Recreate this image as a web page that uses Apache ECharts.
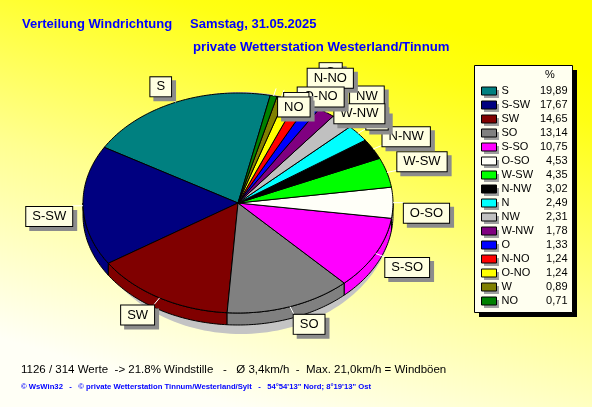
<!DOCTYPE html>
<html><head><meta charset="utf-8">
<script src="https://cdn.jsdelivr.net/npm/echarts@6/dist/echarts.min.js"></script>
<style>html,body{margin:0;padding:0;} #c{width:592px;height:407px;}</style>
</head><body><div id="c"></div>
<script>
// ---- data ----
const categories = ['S','S-SW','SW','SO','S-SO','O-SO','W-SW','N-NW','N','NW','W-NW','O','N-NO','O-NO','W','NO'];
const percentValues = [19.89,17.67,14.65,13.14,10.75,4.53,4.35,3.02,2.49,2.31,1.78,1.33,1.24,1.24,0.89,0.71];
const sliceColors = ['#008080','#000080','#800000','#808080','#ff00ff','#fffff8','#00ff00','#000000','#00ffff','#c0c0c0','#800080','#0000ff','#ff0000','#ffff00','#808000','#008000'];
const titleMain = 'Verteilung Windrichtung';
const titleDate = 'Samstag, 31.05.2025';
const titleStation = 'private Wetterstation Westerland/Tinnum';
const statsLine = '1126 / 314 Werte  -> 21.8% Windstille   -   Ø 3,4km/h  -  Max. 21,0km/h = Windböen';
const creditLine = '© WsWin32   -   © private Wetterstation Tinnum/Westerland/Sylt   -   54°54\'13" Nord; 8°19\'13" Ost';
const legendHeader = '%';

// ---- layout / style constants ----
const FONT = '"Liberation Sans", Arial, sans-serif';
const START_ANGLE = 78;   // degrees, counter-clockwise from east
const DEPTH = 12;         // px, 3D side height
const LABEL_R = 1.07;     // label anchor radius (relative)
const labelNudge = { 'NW':[1,-11], 'W-NW':[2,16], 'O':[1,-19], 'N-NO':[1,-9], 'O-NO':[3,13], 'W':[0,21], 'NO':[2,27] };
const LEG = {x:474, y:65, w:98, h:247, rowH:14, iconX:481, iconY:87};

const total = percentValues.reduce((a,b)=>a+b,0);
const startA = [], endA = [];
let acc = START_ANGLE;
percentValues.forEach(v => { startA.push(acc); acc += v/total*360; endA.push(acc); });
const rad = d => d*Math.PI/180;
const fmt = v => v.toFixed(2).replace('.', ',');

function arcPoints(api, a, b, r) {
  const pts = [];
  const n = Math.max(2, Math.ceil((b - a) / 1));
  for (let k = 0; k <= n; k++) {
    const t = rad(a + (b - a) * k / n);
    pts.push(api.coord([Math.cos(t) * r, Math.sin(t) * r]));
  }
  return pts;
}

function renderSlice(params, api) {
  const i = api.value(2);
  const a0 = startA[i], a1 = endA[i];
  const color = sliceColors[i];
  const children = [];
  const s = Math.max(a0, 180), e = Math.min(a1, 360);
  if (e > s) {
    const top = arcPoints(api, s, e, 1);
    const bot = top.map(p => [p[0], p[1] + DEPTH]).reverse();
    children.push({type:'polygon', shape:{points: top.concat(bot)}, style:{fill: color, stroke:'#000', lineWidth:1}});
  }
  const pts = [api.coord([0,0])].concat(arcPoints(api, a0, a1, 1));
  children.push({type:'polygon', shape:{points: pts}, style:{fill: color, stroke:'#000', lineWidth:1}});
  return {type:'group', children};
}

function renderShadow(params, api) {
  const pts = [];
  for (let k = 0; k < 360; k += 2) {
    const t = rad(k);
    const p = api.coord([Math.cos(t) * 0.98, Math.sin(t) * 1.1]);
    pts.push([p[0] + 3, p[1] + 10]);
  }
  return {type:'polygon', shape:{points: pts}, style:{fill:'#c4c4c4'}};
}

function renderLabel(params, api) {
  const i = api.value(2);
  const mid = rad((startA[i] + endA[i]) / 2);
  const c = Math.cos(mid), s = Math.sin(mid);
  const p0 = api.coord([c, s]);
  const p1 = api.coord([c * LABEL_R, s * LABEL_R]);
  const nd = labelNudge[categories[i]] || [0, 0];
  const upper = s > 0.02;
  const x = p1[0] + nd[0], y = p1[1] + nd[1] + 1;
  const base = {text: categories[i], fontSize:13, fontFamily: FONT,
    align: c >= 0 ? 'left' : 'right', verticalAlign: upper ? 'bottom' : 'top',
    lineHeight:13, padding:[3,6,3,6]};
  return {type:'group', children:[
    {type:'line', shape:{x1:p0[0], y1:p0[1], x2:p1[0], y2:p1[1]}, style:{stroke:'#ffffff', lineWidth:1}},
    {type:'text', x: x + 4, y: y + 4,
     style: Object.assign({}, base, {fill:'rgba(0,0,0,0)', backgroundColor:'#8c8c8c', borderColor:'#8c8c8c', borderWidth:1})},
    {type:'text', x: x, y: y,
     style: Object.assign({}, base, {fill:'#000', backgroundColor:'#ffffe1', borderColor:'#000', borderWidth:1})}
  ]};
}

const sliceSeries = categories.map((name, i) => ({
  type:'custom', name, coordinateSystem:'cartesian2d', z:2, silent:true,
  itemStyle:{color: sliceColors[i]},
  renderItem: renderSlice, data:[[0, 0, i]], encode:{x:0, y:1}
}));

const iconShadows = categories.map((c, i) => ({
  type:'rect', left: LEG.iconX + 3, top: LEG.iconY + 3 + i * LEG.rowH, z:3,
  shape:{width:15, height:8}, style:{fill:'#a0a0a0'}
}));

const option = {
  animation:false,
  backgroundColor:{type:'linear', x:0.6, y:0, x2:0.4, y2:1, colorStops:[
    {offset:0, color:'#ffff00'}, {offset:0.12, color:'#ffff14'}, {offset:0.55, color:'#ffff90'}, {offset:1, color:'#fffff6'}]},
  title:[
    {text:titleMain, left:22, top:18, padding:0, textStyle:{color:'#0000ff', fontSize:13, fontWeight:'bold', fontFamily:FONT}},
    {text:titleDate, left:190, top:18, padding:0, textStyle:{color:'#0000ff', fontSize:13, fontWeight:'bold', fontFamily:FONT}},
    {text:titleStation, left:193, top:41, padding:0, textStyle:{color:'#0000ff', fontSize:13.2, fontWeight:'bold', fontFamily:FONT}}
  ],
  grid:{left:83, top:93, width:310, height:220},
  xAxis:{type:'value', min:-1, max:1, show:false},
  yAxis:{type:'value', min:-1, max:1, show:false},
  legend:{
    data: categories, orient:'vertical', left:LEG.x, top:LEG.y, padding:[19,5,4,7], itemGap:0,
    itemWidth:15, itemHeight:8, icon:'rect', selectedMode:false, z:5,
    itemStyle:{borderColor:'#000', borderWidth:1},
    formatter: name => '{n|' + name + '}{v|' + fmt(percentValues[categories.indexOf(name)]) + '}',
    textStyle:{fontSize:11, fontFamily:FONT, color:'#000', lineHeight:14,
      rich:{n:{width:38, fontSize:11, fontFamily:FONT, lineHeight:14}, v:{width:28, align:'right', fontSize:11, fontFamily:FONT, lineHeight:14}}}
  },
  graphic:[
    {type:'rect', left:LEG.x + 5, top:LEG.y + 5, z:1, shape:{width:LEG.w, height:LEG.h}, style:{fill:'#000'}},
    {type:'rect', left:LEG.x, top:LEG.y, z:2, shape:{width:LEG.w, height:LEG.h}, style:{fill:'#fffff0', stroke:'#000', lineWidth:1}},
    {type:'text', left:21, top:364, style:{text:statsLine, fontSize:11.5, fontFamily:FONT, fill:'#000'}},
    {type:'text', left:21, top:383, style:{text:creditLine, fontSize:7.7, fontWeight:'bold', fontFamily:FONT, fill:'#0000ff'}},
    {type:'text', left:545, top:69, z:100, style:{text:legendHeader, fontSize:11, fontFamily:FONT, fill:'#000'}}
  ].concat(iconShadows),
  series: [
    {type:'custom', name:'_shadow', coordinateSystem:'cartesian2d', z:1, silent:true, renderItem: renderShadow, data:[[0,0,0]], encode:{x:0,y:1}}
  ].concat(sliceSeries).concat([
    {type:'custom', name:'_labels', coordinateSystem:'cartesian2d', z:3, silent:true, renderItem: renderLabel,
     data: categories.map((c, i) => [0, 0, i]), encode:{x:0, y:1}}
  ])
};
const chart = echarts.init(document.getElementById('c'), null, {renderer:'canvas'});
chart.setOption(option);
</script></body></html>
